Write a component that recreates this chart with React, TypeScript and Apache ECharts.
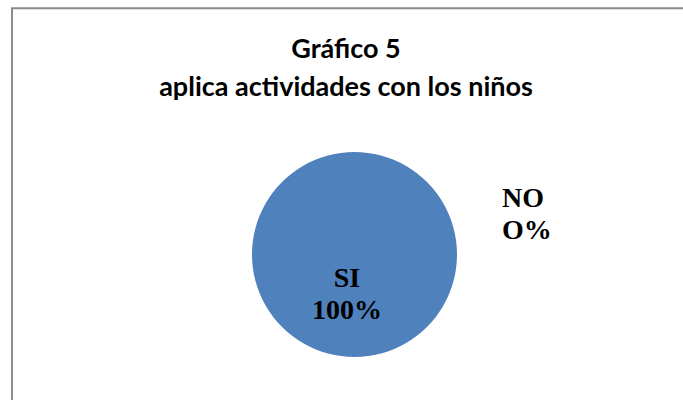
import React, { useEffect, useRef } from "react";
import * as echarts from "echarts";

const titleLines = ["Gráfico 5", "aplica actividades con los niños"];
const categories = ["SI", "NO"];
const values = [100, 0];
const percentLabels = ["100%", "O%"];
const colors = ["#4F81BD", "#C0504D"];

export default function App() {
  const ref = useRef<HTMLDivElement>(null);
  useEffect(() => {
    const chart = echarts.init(ref.current!, null, { renderer: "svg" });
    chart.setOption({
      animation: false,
      backgroundColor: "#ffffff",
      title: {
        text: titleLines.join("\n"),
        left: 341,
        top: 23,
        textAlign: "center",
        textStyle: {
          fontFamily: "Lato",
          fontWeight: "bold",
          fontSize: 27,
          lineHeight: 38,
          color: "#000000",
        },
      },
      graphic: [
        {
          type: "rect",
          shape: { x: 12, y: 8.3, width: 720, height: 420 },
          style: { fill: "none", stroke: "#8c8c8c", lineWidth: 2 },
          silent: true,
          z: -1,
        },
      ],
      series: [
        {
          type: "pie",
          center: [354.5, 254.5],
          radius: [0, 102.5],
          startAngle: 90,
          clockwise: true,
          stillShowZeroSum: true,
          minAngle: 0,
          labelLine: { show: false },
          label: {
            show: true,
            position: "inside",
            fontFamily: "Liberation Serif",
            fontWeight: "bold",
            fontSize: 28,
            lineHeight: 32,
            color: "#000000",
            formatter: (p: any) => `${p.name}\n${percentLabels[p.dataIndex]}`,
          },
          labelLayout: (p: any) =>
            p.dataIndex === 0
              ? { x: 347, y: 293, align: "center", verticalAlign: "middle" }
              : { x: 502, y: 213, align: "left", verticalAlign: "middle" },
          itemStyle: { borderWidth: 0 },
          emphasis: { disabled: true },
          data: categories.map((c, i) => ({
            name: c,
            value: values[i],
            itemStyle: { color: colors[i] },
          })),
        },
      ],
    });
    return () => chart.dispose();
  }, []);
  return (
    <div
      ref={ref}
      style={{ position: "fixed", left: 0, top: 0, width: 683, height: 400 }}
    />
  );
}
